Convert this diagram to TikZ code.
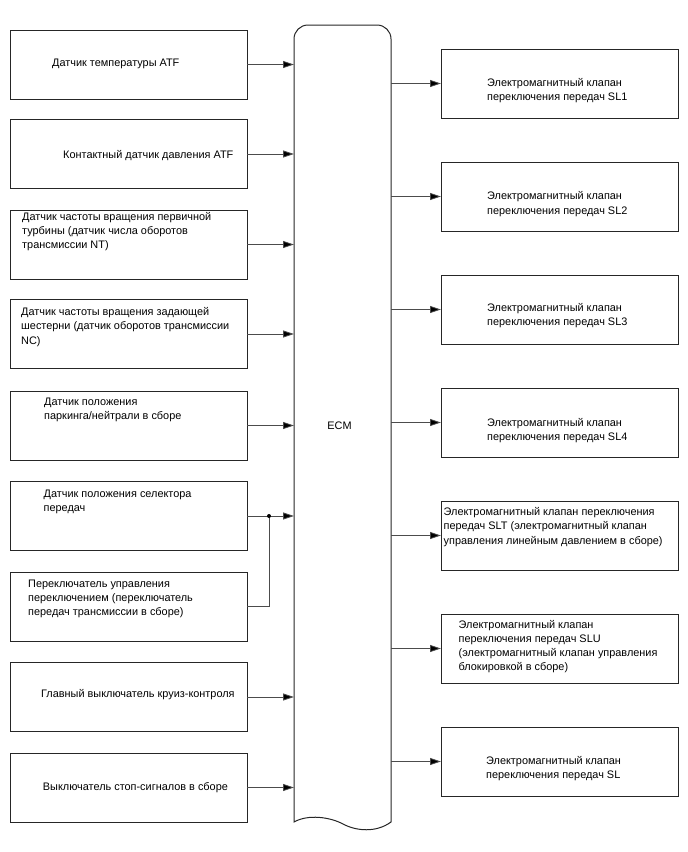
\documentclass[tikz,border=0pt]{standalone}
\usepackage{fontspec}
\setmainfont{Liberation Sans}
\usetikzlibrary{arrows.meta,calc}
\newcommand{\mlines}[1]{\begin{tabular}[t]{@{}l@{}}#1\end{tabular}}
\tikzset{
  box/.style={draw=black!85, line width=1pt, rectangle, minimum width=237pt, minimum height=69pt, anchor=north west, inner sep=0pt, outer sep=0pt},
  txt/.style={anchor=base west, inner sep=0pt, font=\fontsize{10.9}{14.3}\selectfont},
  conn/.style={draw=black!70, line width=0.8pt},
  arr/.style={conn, -{Triangle[length=11pt,width=7pt,fill=black]}, shorten >=0pt}
}
\begin{document}
\begin{tikzpicture}[x=1pt,y=-1pt]
\useasboundingbox (0,0) rectangle (688,852);
% ECM
\node[minimum width=97pt, minimum height=797pt, anchor=north west, inner sep=0pt, outer sep=0pt] (ecm) at (294,25) {};
\draw[line width=1pt, black!85] (294,822) -- (294,39) arc[start angle=180, end angle=270, radius=14] -- (377,25) arc[start angle=270, end angle=360, radius=14] -- (391,822)
  .. controls (376,833) and (356,831) .. (343,824) .. controls (330,817) and (308,814) .. (294,822) -- cycle;
\node[txt, anchor=center] (ecmt) at (339.5,426) {ECM};

% left boxes
\node[box] (L1) at (10,30) {};
\node[box] (L2) at (10,119.5) {};
\node[box] (L3) at (10,210) {};
\node[box] (L4) at (10,299.5) {};
\node[box] (L5) at (10,391) {};
\node[box] (L6) at (10,481.5) {};
\node[box] (L7) at (10,572) {};
\node[box] (L8) at (10,662.5) {};
\node[box] (L9) at (10,753) {};

\node[txt] (t1) at (52,66) {Датчик температуры ATF};
\node[txt] (t2) at (63,158) {Контактный датчик давления ATF};
\node[txt] (t3) at (22,220) {\mlines{Датчик частоты вращения первичной\\турбины (датчик числа оборотов\\трансмиссии NT)}};
\node[txt] (t4) at (21,315.5) {\mlines{Датчик частоты вращения задающей\\шестерни (датчик оборотов трансмиссии\\NC)}};
\node[txt] (t5) at (44,405.5) {\mlines{Датчик положения\\паркинга/нейтрали в сборе}};
\node[txt] (t6) at (43.5,497) {\mlines{Датчик положения селектора\\передач}};
\node[txt] (t7) at (28,587) {\mlines{Переключатель управления\\переключением (переключатель\\передач трансмиссии в сборе)}};
\node[txt] (t8) at (41,697) {Главный выключатель круиз-контроля};
\node[txt] (t9) at (42.7,790) {Выключатель стоп-сигналов в сборе};

% right boxes
\node[box] (R1) at (441,49) {};
\node[box] (R2) at (441,162) {};
\node[box] (R3) at (441,275) {};
\node[box] (R4) at (441,388) {};
\node[box] (R5) at (441,501) {};
\node[box] (R6) at (441,614) {};
\node[box] (R7) at (441,727) {};

\node[txt] (r1) at (487,86.5) {\mlines{Электромагнитный клапан\\переключения передач SL1}};
\node[txt] (r2) at (487,199.7) {\mlines{Электромагнитный клапан\\переключения передач SL2}};
\node[txt] (r3) at (487,311.5) {\mlines{Электромагнитный клапан\\переключения передач SL3}};
\node[txt] (r4) at (487,426.5) {\mlines{Электромагнитный клапан\\переключения передач SL4}};
\node[txt] (r5) at (443.5,515.5) {\mlines{Электромагнитный клапан переключения\\передач SLT (электромагнитный клапан\\управления линейным давлением в сборе)}};
\node[txt] (r6) at (458.5,628) {\mlines{Электромагнитный клапан\\переключения передач SLU\\(электромагнитный клапан управления\\блокировкой в сборе)}};
\node[txt] (r7) at (486,764) {\mlines{Электромагнитный клапан\\переключения передач SL}};

% left connectors
\foreach \n in {L1,L2,L3,L4,L5,L6,L8,L9}{
  \draw[arr] (\n.east) -- (\n.east -| ecm.west);
}
\coordinate (j) at ($(L6.east)+(22,0)$);
\draw[conn] (L7.east) -| (j);
\fill[black] (j) circle (2pt);

% right connectors
\foreach \n in {R1,R2,R3,R4,R5,R6,R7}{
  \draw[arr] (\n.west -| ecm.east) -- (\n.west);
}
\end{tikzpicture}
\end{document}
